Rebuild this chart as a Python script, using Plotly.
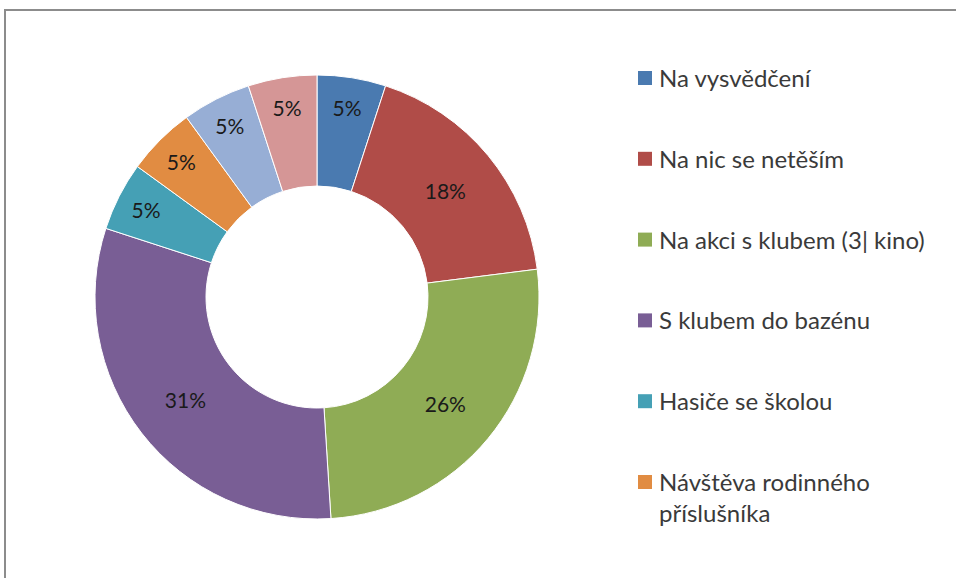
import plotly.graph_objects as go

# data (share of answers, %)
labels = ["Na vysvědčení", "Na nic se netěším", "Na akci s klubem (3| kino)",
          "S klubem do bazénu", "Hasiče se školou", "Návštěva rodinného<br>příslušníka",
          "Jiné", "Nevím"]
values = [5, 18, 26, 31, 5, 5, 5, 5]
colors = ["#4A7AB0", "#B04C48", "#8FAC55", "#795E95", "#45A0B5", "#E18C42", "#97AED5", "#D59696"]

W, H = 956, 578
cx, cy, r = 317, 297, 222

fig = go.Figure()
fig.add_trace(go.Pie(
    labels=labels, values=values, sort=False, direction="clockwise", rotation=0,
    hole=0.5, marker=dict(colors=colors, line=dict(color="white", width=1)),
    texttemplate="%{percent:.0%}", textposition="inside",
    insidetextorientation="horizontal",
    textfont=dict(family="Lato", size=21, color="#1a1a1a"),
    domain=dict(x=[(cx - r) / W, (cx + r) / W], y=[1 - (cy + r) / H, 1 - (cy - r) / H]),
    showlegend=False,
))

# frame of the chart area (only left and top edges are inside the picture)
shapes = [dict(type="line", xref="paper", yref="paper", x0=5 / W, x1=5 / W, y0=0, y1=1 - 9 / H,
               line=dict(color="#8c8c8c", width=2)),
          dict(type="line", xref="paper", yref="paper", x0=4 / W, x1=1, y0=1 - 10 / H, y1=1 - 10 / H,
               line=dict(color="#8c8c8c", width=2))]

# legend drawn by hand so the spacing matches (it runs off the bottom of the picture)
annotations = []
yc = 78
for lab, col in zip(labels, colors):
    if yc < H:
        shapes.append(dict(type="rect", xref="paper", yref="paper",
                           x0=638 / W, x1=652 / W, y0=1 - (yc + 7) / H, y1=1 - (yc - 7) / H,
                           fillcolor=col, line=dict(width=0)))
        annotations.append(dict(text=lab, xref="paper", yref="paper", x=657 / W, y=1 - (yc - 17) / H,
                                xanchor="left", yanchor="top", align="left", showarrow=False,
                                font=dict(family="Lato", size=24, color="#3a3a3a")))
    yc += 80.8 + 40 * lab.count("<br>")

fig.update_layout(
    width=W, height=H, margin=dict(l=0, r=0, t=0, b=0),
    paper_bgcolor="white", plot_bgcolor="white",
    shapes=shapes, annotations=annotations,
)

fig.write_html("out.html", config={"displayModeBar": False},
               post_script="document.body.style.margin='0';document.body.style.overflow='hidden';")
